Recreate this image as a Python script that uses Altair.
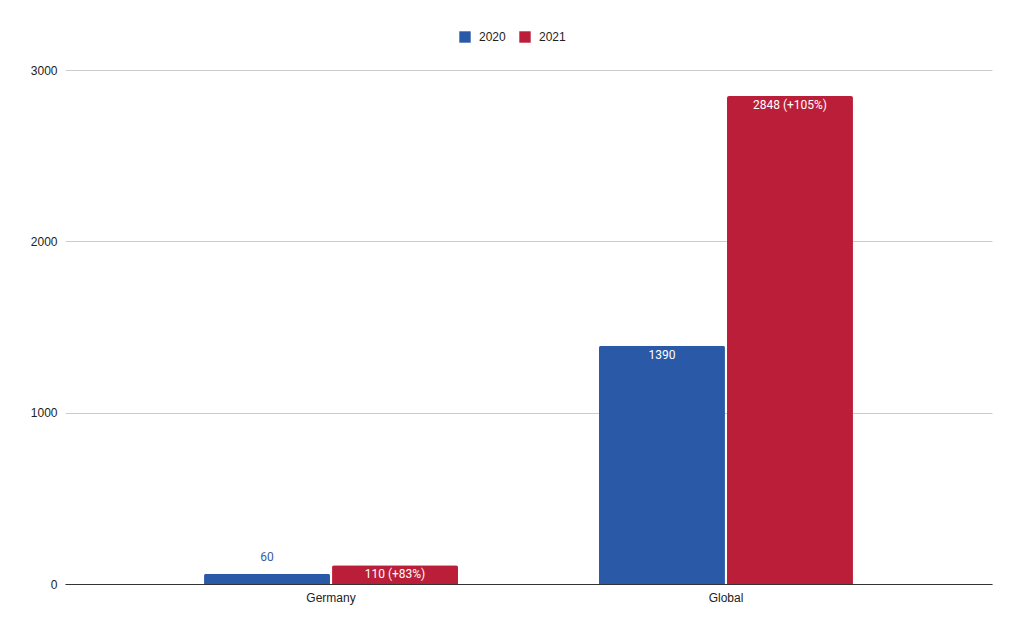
import altair as alt
import pandas as pd

regions = ["Germany", "Germany", "Global", "Global"]
years = ["2020", "2021", "2020", "2021"]
values = [60, 110, 1390, 2848]
labels = ["60", "110 (+83%)", "1390", "2848 (+105%)"]
inside = [False, True, True, True]

df = pd.DataFrame({"region": regions, "year": years, "value": values,
                   "label": labels, "inside": inside})

FONT = "Roboto"
AXFONT = "Liberation Sans"
colors = ["#2a59a8", "#bb1e38"]

x = alt.X("region:N", title=None,
          scale=alt.Scale(paddingInner=0.357, paddingOuter=0.352),
          axis=alt.Axis(labelAngle=0, ticks=False, domain=True, domainColor="#333333",
                        labelPadding=8, labelFont=AXFONT, labelFontSize=12, labelColor="#222222"))
xo = alt.XOffset("year:N", scale=alt.Scale(paddingInner=0.016))
y = alt.Y("value:Q", title=None,
          scale=alt.Scale(domain=[0, 3000], nice=False),
          axis=alt.Axis(values=[0, 1000, 2000, 3000], format="d", ticks=False, domain=False,
                        gridColor="#cccccc", labelPadding=8, labelFont=AXFONT,
                        labelFontSize=12, labelColor="#222222"))

bars = alt.Chart(df).mark_bar(cornerRadiusTopLeft=2, cornerRadiusTopRight=2).encode(
    x=x, xOffset=xo, y=y,
    color=alt.Color("year:N", title=None,
                    scale=alt.Scale(domain=["2020", "2021"], range=colors),
                    legend=alt.Legend(orient="none", direction="horizontal",
                                      legendX=394, legendY=-39, symbolType="square",
                                      symbolSize=130, symbolStrokeWidth=0,
                                      labelOffset=8, labelFont=AXFONT, labelFontSize=12,
                                      labelColor="#222222", columnPadding=13))
)

txt_in = alt.Chart(df).transform_filter("datum.inside").mark_text(
    baseline="top", dy=4, color="white", font=FONT, fontSize=12
).encode(x=x, xOffset=xo, y=y, text="label:N")

txt_out = alt.Chart(df).transform_filter("!datum.inside").mark_text(
    baseline="bottom", dy=-10, color="#3a5c9e", font=FONT, fontSize=12
).encode(x=x, xOffset=xo, y=y, text="label:N")

chart = alt.layer(bars, txt_in, txt_out).properties(
    width=927, height=514, autosize="none",
    padding={"left": 57, "top": 62, "right": 24, "bottom": 42},
).configure_view(stroke=None).configure_axisX(grid=False)

chart.save("out.html", embed_options={"renderer": "svg", "actions": False})
